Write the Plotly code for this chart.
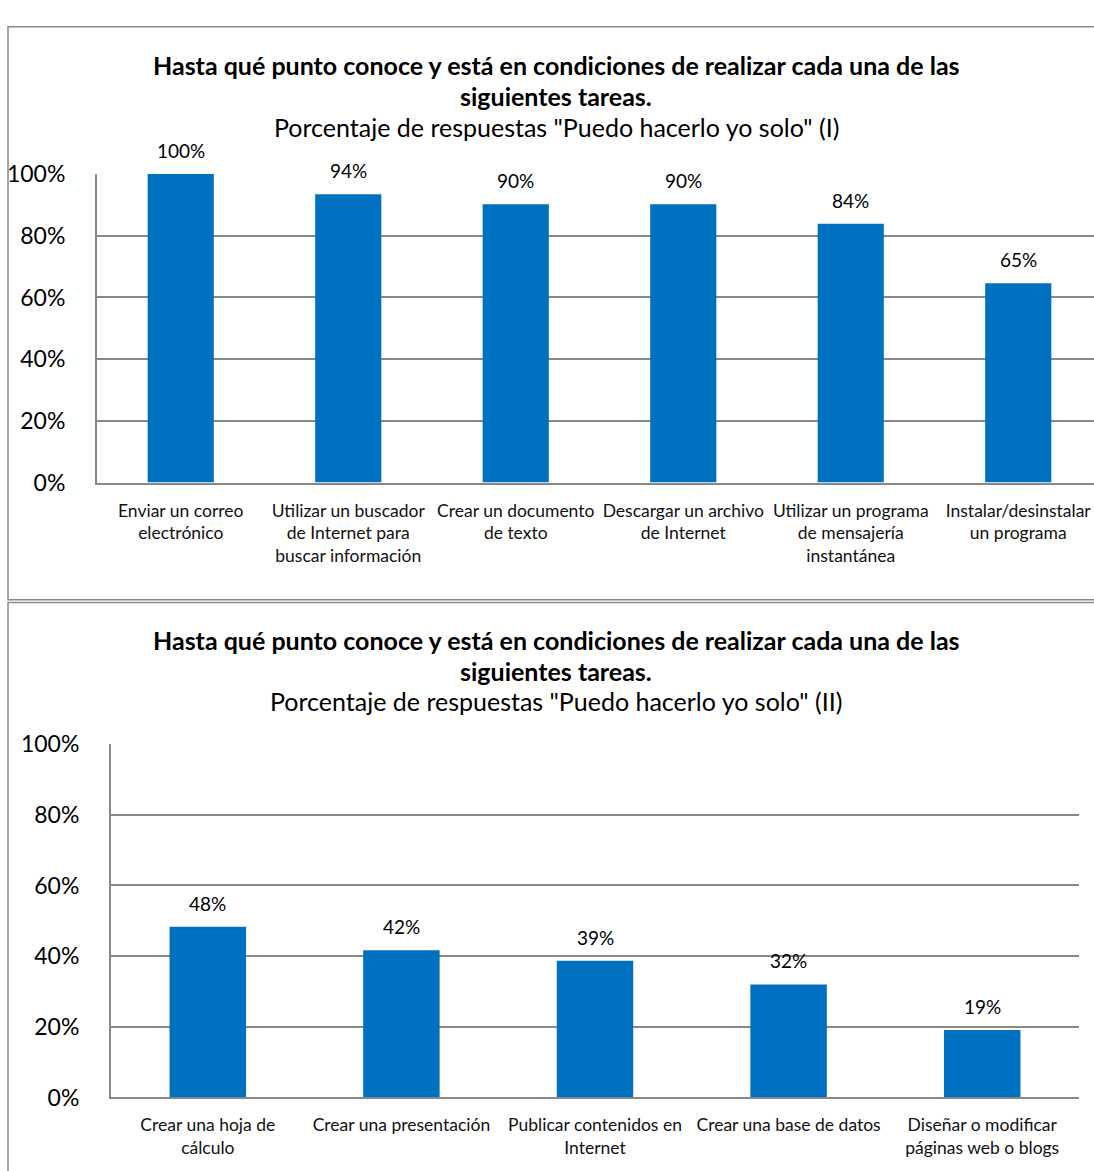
import plotly.graph_objects as go

W, H = 1094, 1171

# ---- data ----
title_line1 = "Hasta qué punto conoce y está en condiciones de realizar cada una de las"
title_line2 = "siguientes tareas."
subtitle1 = 'Porcentaje de respuestas "Puedo hacerlo yo solo" (I)'
subtitle2 = 'Porcentaje de respuestas "Puedo hacerlo yo solo" (II)'

cats1 = ["Enviar un correo electrónico",
         "Utilizar un buscador de Internet para buscar información",
         "Crear un documento de texto",
         "Descargar un archivo de Internet",
         "Utilizar un programa de mensajería instantánea",
         "Instalar/desinstalar un programa"]
ticks1 = ["Enviar un correo<br>electrónico",
          "Utilizar un buscador<br>de Internet para<br>buscar información",
          "Crear un documento<br>de texto",
          "Descargar un archivo<br>de Internet",
          "Utilizar un programa<br>de mensajería<br>instantánea",
          "Instalar/desinstalar<br>un programa"]
vals1 = [1.00, 0.935, 0.902, 0.902, 0.839, 0.646]
labels1 = ["100%", "94%", "90%", "90%", "84%", "65%"]

cats2 = ["Crear una hoja de cálculo",
         "Crear una presentación",
         "Publicar contenidos en Internet",
         "Crear una base de datos",
         "Diseñar o modificar páginas web o blogs"]
ticks2 = ["Crear una hoja de<br>cálculo",
          "Crear una presentación",
          "Publicar contenidos en<br>Internet",
          "Crear una base de datos",
          "Diseñar o modificar<br>páginas web o blogs"]
vals2 = [0.483, 0.417, 0.387, 0.320, 0.191]
labels2 = ["48%", "42%", "39%", "32%", "19%"]

yticks = [0, 0.2, 0.4, 0.6, 0.8, 1.0]

# ---- style ----
FONT = "Lato"
BLUE = "#0070C0"
GRID = "#888888"
BORDER = "#8a8a8a"


def px_x(p):
    return p / W


def px_y(p):
    return 1 - p / H


fig = go.Figure()
fig.add_trace(go.Bar(x=cats1, y=vals1, marker=dict(color=BLUE, line=dict(width=0)),
                     xaxis="x", yaxis="y", hoverinfo="skip"))
fig.add_trace(go.Bar(x=cats2, y=vals2, marker=dict(color=BLUE, line=dict(width=0)),
                     xaxis="x2", yaxis="y2", hoverinfo="skip"))

axis_common_y = dict(range=[0, 1], tickvals=yticks, tickformat=".0%",
                     showgrid=True, gridcolor=GRID, gridwidth=1.5,
                     showline=True, linecolor=GRID, linewidth=2,
                     zeroline=False, ticks="", ticklabelstandoff=25,
                     tickfont=dict(family=FONT, size=23, color="#000"))
axis_common_x = dict(showline=True, linecolor=GRID, linewidth=2, showgrid=False,
                     ticks="", ticklabelstandoff=11,
                     tickfont=dict(family=FONT, size=17.5, color="#111"))

# top plot: 6 categories, 167.5 px each, right side cut at page edge
top_left, top_top, top_bottom = 97, 163, 479
cat_w1 = 167.5
x_hi1 = -0.5 + (W - top_left) / cat_w1

fig.update_layout(
    width=W, height=H, margin=dict(l=0, r=0, t=0, b=0),
    paper_bgcolor="white", plot_bgcolor="white", showlegend=False,
    bargap=0.605,
    xaxis=dict(domain=[px_x(top_left), 1], anchor="y", range=[-0.5, x_hi1],
               tickvals=cats1, ticktext=ticks1, type="category", **axis_common_x),
    yaxis=dict(domain=[px_y(top_bottom), px_y(top_top)], anchor="x", **axis_common_y),
    xaxis2=dict(domain=[px_x(111), px_x(1079)], anchor="y2", range=[-0.5, 4.5],
                tickvals=cats2, ticktext=ticks2, type="category", **axis_common_x),
    yaxis2=dict(domain=[px_y(1109), px_y(747)], anchor="x2", **axis_common_y),
)

annotations = []
for c, v, t in zip(cats1, vals1, labels1):
    annotations.append(dict(x=c, y=v, xref="x", yref="y", text=t, showarrow=False,
                            yanchor="bottom", yshift=10,
                            font=dict(family=FONT, size=19, color="#000")))
for c, v, t in zip(cats2, vals2, labels2):
    annotations.append(dict(x=c, y=v, xref="x2", yref="y2", text=t, showarrow=False,
                            yanchor="bottom", yshift=10,
                            font=dict(family=FONT, size=19, color="#000")))

cx = px_x(556)
for l1, l2, sy, sub in [(51, 83, 115, subtitle1), (640, 672, 703, subtitle2)]:
    for ty, txt in [(l1, title_line1), (l2, title_line2)]:
        annotations.append(dict(x=cx, y=px_y(ty), xref="paper", yref="paper",
                                text="<b>" + txt + "</b>",
                                showarrow=False, xanchor="center", yanchor="middle",
                                font=dict(family=FONT, size=25, color="#000")))
    annotations.append(dict(x=cx, y=px_y(sy), xref="paper", yref="paper", text=sub,
                            showarrow=False, xanchor="center", yanchor="middle",
                            font=dict(family=FONT, size=25, color="#000")))
fig.update_layout(annotations=annotations)

shapes = [
    dict(type="rect", xref="paper", yref="paper", x0=px_x(8), x1=px_x(1110),
         y0=px_y(599), y1=px_y(12), line=dict(color=BORDER, width=1.5)),
    dict(type="rect", xref="paper", yref="paper", x0=px_x(8), x1=px_x(1110),
         y0=px_y(1200), y1=px_y(602), line=dict(color=BORDER, width=1.5)),
]
fig.update_layout(shapes=shapes)

fig.write_html("out.html")
